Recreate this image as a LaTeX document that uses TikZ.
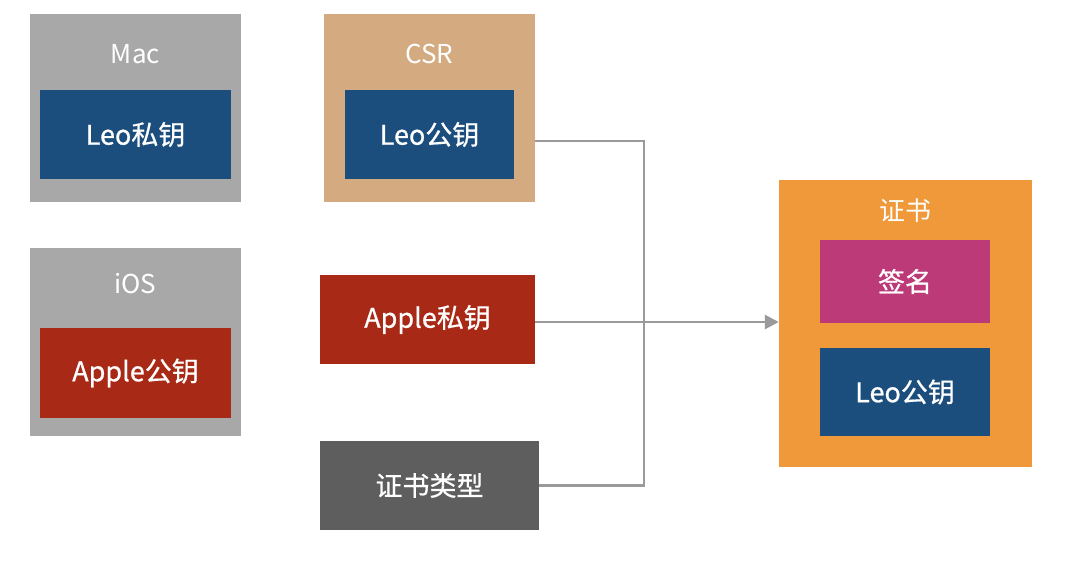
\documentclass[tikz,border=0pt]{standalone}
\usepackage{fontspec}
\setmainfont{Noto Sans CJK SC}[BoldFont=Noto Sans CJK SC, BoldFeatures={FakeBold=0.7}]
\usetikzlibrary{arrows.meta}
\definecolor{boxgray}{HTML}{A8A8A8}
\definecolor{keyblue}{HTML}{1B4E7D}
\definecolor{csrtan}{HTML}{D4AA80}
\definecolor{keyred}{HTML}{A82A16}
\definecolor{darkgray}{HTML}{5E5E5E}
\definecolor{certorange}{HTML}{F0993A}
\definecolor{sigpink}{HTML}{BC3A77}
\definecolor{linegray}{HTML}{9A9A9A}
\tikzset{
  box/.style={draw=none, inner sep=0pt, text=white, font=\fontsize{27}{31}\selectfont\bfseries},
  lbl/.style={inner sep=0pt, text=white, font=\fontsize{26}{30}\selectfont},
  conn/.style={draw=linegray, line width=2.8pt},
}
\begin{document}
\begin{tikzpicture}[x=1pt,y=-1pt]
\useasboundingbox (0,0) rectangle (1080,563);
% Mac
\node[box, fill=boxgray, minimum width=211pt, minimum height=188pt] (mac) at (135.5,108) {};
\node[lbl] (maclbl) at (135.5,54) {Mac};
\node[box, fill=keyblue, minimum width=191pt, minimum height=89pt] (macin) at (135.5,134.5) {Leo私钥};
% iOS
\node[box, fill=boxgray, minimum width=211pt, minimum height=188pt] (ios) at (135.5,342) {};
\node[lbl] (ioslbl) at (135.5,284) {iOS};
\node[box, fill=keyred, minimum width=191pt, minimum height=90pt] (iosin) at (135.5,373) {Apple公钥};
% CSR
\node[box, fill=csrtan, minimum width=211pt, minimum height=188pt] (csr) at (429.5,108) {};
\node[lbl] (csrlbl) at (429.5,54) {CSR};
\node[box, fill=keyblue, minimum width=169pt, minimum height=89pt] (csrin) at (429.5,134.5) {Leo公钥};
% Apple private key
\node[box, fill=keyred, minimum width=215pt, minimum height=89pt] (apk) at (427.5,319.5) {Apple私钥};
% cert type
\node[box, fill=darkgray, minimum width=219pt, minimum height=89pt] (type) at (429.5,485.5) {证书类型};
% Certificate
\node[box, fill=certorange, minimum width=253pt, minimum height=287pt] (cert) at (905.5,323.5) {};
\node[lbl] (certlbl) at (905.5,211) {证书};
\node[box, fill=sigpink, minimum width=170pt, minimum height=83pt] (sig) at (905,281.5) {签名};
\node[box, fill=keyblue, minimum width=170pt, minimum height=88pt] (certpk) at (905,392) {Leo公钥};
% connectors
\coordinate (j) at (644,322);
\draw[conn] ([yshift=-33pt]csr.east) -| (j);
\draw[conn] (type.east) -| (j);
\draw[conn, -{Triangle[length=14pt,width=14pt]}] (apk.east |- j) -- (cert.west |- j);
\end{tikzpicture}
\end{document}
